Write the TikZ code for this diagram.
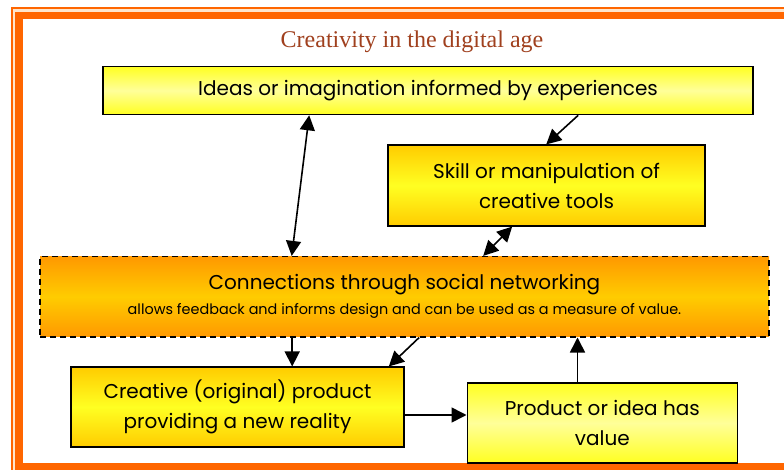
\documentclass[tikz,border=0pt]{standalone}
\usepackage{fontspec}
\setmainfont{Liberation Serif}
\newfontfamily\boxfont{Poppins}
\usetikzlibrary{arrows.meta,calc}
\definecolor{frameor}{HTML}{FF6600}
\definecolor{framecream}{HTML}{FFE6CC}
\definecolor{titlecol}{HTML}{A0401E}
\definecolor{yel}{HTML}{FFFF22}
\definecolor{paleyel}{HTML}{FFFF99}
\definecolor{gold}{HTML}{FFCC00}
\definecolor{orng}{HTML}{FF9900}
\tikzset{
  box/.style={draw=black, line width=1.6pt, inner sep=0pt, align=center,
    font=\boxfont\fontsize{20}{30}\selectfont},
  paleshade/.style={top color=yel, bottom color=yel, middle color=paleyel},
  goldshade/.style={top color=gold, bottom color=gold, middle color=yel},
  orngshade/.style={top color=orng, bottom color=orng, middle color=gold},
  conn/.style={line width=1.6pt, -{Triangle[length=15pt,width=15pt]}},
  biconn/.style={line width=1.6pt, {Triangle[length=15pt,width=15pt]}-{Triangle[length=15pt,width=15pt]}},
}
\begin{document}
\begin{tikzpicture}[x=1pt,y=-1pt]
\useasboundingbox (0,0) rectangle (784,470);
\fill[white] (0,0) rectangle (784,470);
\begin{scope}
\clip (0,0) rectangle (784,470);
\draw[framecream,line width=4pt] (14,10) rectangle (830,520);
\draw[frameor,line width=2pt] (12.2,7.9) rectangle (830,520);
\draw[frameor,line width=7.5pt] (19.2,15.5) rectangle (830,466.5);
\end{scope}

\node[titlecol, font=\fontsize{24}{28}\selectfont] (title) at (412,42) {Creativity in the digital age};

\node[box, paleshade, minimum width=650pt, minimum height=48pt] (ideas) at (428,90.5)
  {Ideas or imagination informed by experiences};
\node[box, goldshade, minimum width=317pt, minimum height=80.5pt] (skill) at (546.5,185.5)
  {Skill or manipulation of\\creative tools};
\node[box, orngshade, dash pattern=on 6pt off 4pt, minimum width=729pt, minimum height=80pt] (net) at (404.5,296.7)
  {Connections through social networking\\[-5pt]{\fontsize{14.4}{20}\selectfont allows feedback and informs design and can be used as a measure of value.}};
\node[box, goldshade, minimum width=333pt, minimum height=79.5pt] (creative) at (237.5,407)
  {Creative (original) product\\providing a new reality};
\node[box, paleshade, minimum width=270pt, minimum height=79.5pt] (product) at (602.3,423)
  {Product or idea has\\value};

\draw[biconn] ($(net.north west)+(252.5,0)$) -- ($(ideas.south west)+(207,0)$);
\draw[conn] ($(ideas.south west)+(476,0)$) -- ($(skill.north west)+(159,0)$);
\draw[biconn] ($(skill.south west)+(125,0)$) -- ($(net.north west)+(444,0)$);
\draw[conn] ($(net.south west)+(253,0)$) -- ($(creative.north west)+(222,0)$);
\draw[conn] ($(net.south west)+(380,0)$) -- ($(creative.north east)+(-16,0)$);
\coordinate (c1) at ($(creative.east)+(0,8)$);
\draw[conn] (c1) -- (c1 -| product.west);
\coordinate (p1) at ($(product.north west)+(111,0)$);
\draw[conn] (p1) -- (p1 |- net.south);
\end{tikzpicture}
\end{document}
